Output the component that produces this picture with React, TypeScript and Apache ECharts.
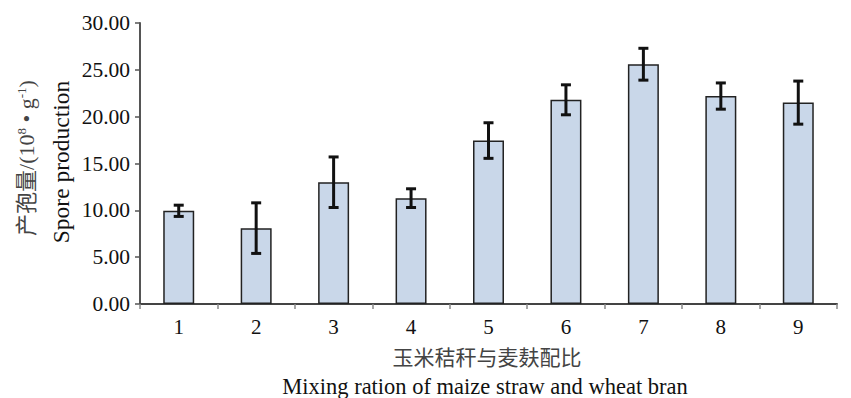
import React, { useEffect, useRef } from "react";
import * as echarts from "echarts";

const categories = ["1", "2", "3", "4", "5", "6", "7", "8", "9"];
const values = [9.95, 8.1, 13.0, 11.3, 17.45, 21.8, 25.6, 22.2, 21.5];
const errors = [0.6, 2.7, 2.7, 1.0, 1.9, 1.6, 1.7, 1.4, 2.3];
const yTicks = { min: 0, max: 30, interval: 5 };

const SERIF = "'Liberation Serif', 'Times New Roman', 'Noto Sans CJK SC', serif";

export default function App() {
  const ref = useRef<HTMLDivElement>(null);
  useEffect(() => {
    if (!ref.current) return;
    const chart = echarts.init(ref.current, null, { renderer: "svg" });
    const errData = values.map((v, i) => [i, v - errors[i], v + errors[i]]);
    chart.setOption({
      animation: false,
      backgroundColor: "#ffffff",
      grid: { left: 140, right: 14, top: 23, bottom: 94 },
      xAxis: {
        type: "category",
        data: categories,
        axisLine: { lineStyle: { color: "#444", width: 2 } },
        axisTick: { show: true, length: 5, lineStyle: { color: "#888", width: 1.5 } },
        axisLabel: { color: "#111", fontSize: 21, fontFamily: SERIF, margin: 12 },
      },
      yAxis: {
        type: "value",
        min: yTicks.min,
        max: yTicks.max,
        interval: yTicks.interval,
        splitLine: { show: false },
        axisLine: { show: true, lineStyle: { color: "#555", width: 2 } },
        axisTick: { show: true, length: 5, lineStyle: { color: "#555", width: 1.5 } },
        axisLabel: {
          color: "#111",
          fontSize: 21.5,
          fontFamily: SERIF,
          margin: 10,
          formatter: (v: number) => v.toFixed(2),
        },
      },
      graphic: [
        {
          type: "text",
          x: 26,
          y: 158,
          rotation: Math.PI / 2,
          style: {
            text: "{a|产孢量/(10}{s|8}{a| • g}{s|-1}{a|)}",
            align: "center",
            verticalAlign: "middle",
            rich: {
              a: { fontSize: 22, fontFamily: SERIF, fill: "#444" },
              s: { fontSize: 13, fontFamily: SERIF, fill: "#444", verticalAlign: "top", padding: [0, 0, 10, 0] },
            },
          },
        },
        {
          type: "text",
          x: 61,
          y: 162,
          rotation: Math.PI / 2,
          style: {
            text: "Spore production",
            align: "center",
            verticalAlign: "middle",
            fontSize: 23.5,
            fontFamily: SERIF,
            fill: "#111",
          },
        },
        {
          type: "text",
          x: 487,
          y: 358,
          style: {
            text: "玉米秸秆与麦麸配比",
            align: "center",
            verticalAlign: "middle",
            fontSize: 21,
            fontFamily: SERIF,
            fill: "#444",
          },
        },
        {
          type: "text",
          x: 485,
          y: 386,
          style: {
            text: "Mixing ration of maize straw and wheat bran",
            align: "center",
            verticalAlign: "middle",
            fontSize: 22.5,
            fontFamily: SERIF,
            fill: "#111",
          },
        },
      ],
      series: [
        {
          type: "bar",
          data: values,
          barWidth: "40%",
          itemStyle: { color: "#c9d7e9", borderColor: "#222", borderWidth: 1.5 },
        },
        {
          type: "custom",
          data: errData,
          z: 10,
          renderItem: (params: any, api: any) => {
            const x = api.value(0);
            const lo = api.coord([x, api.value(1)]);
            const hi = api.coord([x, api.value(2)]);
            const hw = 5;
            const style = { stroke: "#111", lineWidth: 3 };
            return {
              type: "group",
              children: [
                { type: "line", shape: { x1: lo[0], y1: lo[1], x2: hi[0], y2: hi[1] }, style },
                { type: "line", shape: { x1: lo[0] - hw, y1: lo[1], x2: lo[0] + hw, y2: lo[1] }, style },
                { type: "line", shape: { x1: hi[0] - hw, y1: hi[1], x2: hi[0] + hw, y2: hi[1] }, style },
              ],
            };
          },
        },
      ],
    });
    return () => chart.dispose();
  }, []);
  return (
    <div
      ref={ref}
      style={{ position: "fixed", left: 0, top: 0, width: 851, height: 398, background: "#fff" }}
    />
  );
}
